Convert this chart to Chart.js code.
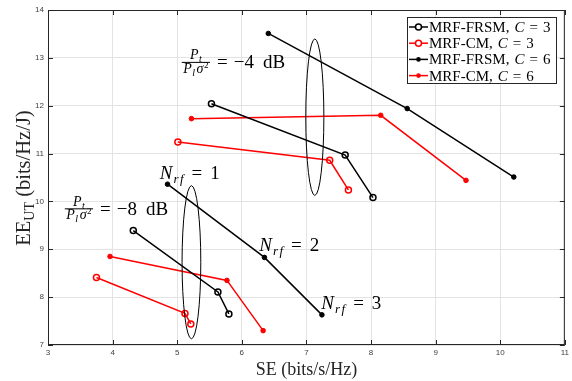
<!DOCTYPE html>
<html>
<head>
<meta charset="utf-8">
<script src="https://cdn.jsdelivr.net/npm/chart.js@4/dist/chart.umd.min.js"></script>
<style>
  html, body { margin: 0; padding: 0; background: #fff; }
  #wrap { width: 572px; height: 381px; }
</style>
</head>
<body>
<div id="wrap"><canvas id="chart"></canvas></div>
<script>
// SE (bits/s/Hz) and EE_UT (bits/Hz/J) per scheme.
// First three points: Pt/(Pl sigma^2) = -4 dB, last three: -8 dB (Nrf = 1, 2, 3).
// The null splits the two runs so they are drawn as separate lines.
const frsm3SE = [5.53, 7.60, 8.03, null, 4.32, 5.63, 5.80];
const frsm3EE = [12.04, 10.97, 10.08, null, 9.39, 8.11, 7.65];
const cm3SE   = [5.01, 7.36, 7.65, null, 3.75, 5.12, 5.21];
const cm3EE   = [11.24, 10.86, 10.24, null, 8.41, 7.66, 7.44];
const frsm6SE = [6.41, 8.56, 10.21, null, 4.85, 6.35, 7.24];
const frsm6EE = [13.51, 11.94, 10.51, null, 10.36, 8.83, 7.63];
const cm6SE   = [5.22, 8.15, 9.47, null, 3.96, 5.77, 6.33];
const cm6EE   = [11.73, 11.80, 10.44, null, 8.85, 8.35, 7.30];

const schemeNames = ['MRF-FRSM', 'MRF-CM', 'MRF-FRSM', 'MRF-CM'];
const clusterSizes = [3, 3, 6, 6];
const schemeColors = ['#000000', '#ff0000', '#000000', '#ff0000'];
const openMarker = [true, true, false, false];

// ellipses grouping the Nrf = 1 points of each power ratio
const ringSE = [7.13, 5.22];
const ringEE = [11.76, 8.73];
const ringHalfSE = [0.14, 0.145];
const ringHalfEE = [1.635, 1.60];

const xMin = 3, xMax = 11, yMin = 7, yMax = 14;

const SERIF = '"Liberation Serif", "Times New Roman", serif';

function toPoints(se, ee) {
  return se.map((x, i) => ({ x: x === null ? NaN : x, y: ee[i] }));
}

const seLists = [frsm3SE, cm3SE, frsm6SE, cm6SE];
const eeLists = [frsm3EE, cm3EE, frsm6EE, cm6EE];

const datasets = seLists.map((se, i) => ({
  label: schemeNames[i] + ', C = ' + clusterSizes[i],
  data: toPoints(se, eeLists[i]),
  borderColor: schemeColors[i],
  backgroundColor: openMarker[i] ? '#ffffff' : schemeColors[i],
  pointBorderColor: schemeColors[i],
  pointBackgroundColor: openMarker[i] ? 'rgba(255,255,255,0)' : schemeColors[i],
  pointRadius: openMarker[i] ? 3 : 2.3,
  pointBorderWidth: openMarker[i] ? 1.5 : 1,
  borderWidth: 1.5,
  spanGaps: false,
  tension: 0
}));

// draws a row of text pieces (italic, sub/superscript) starting at x on baseline y
function drawRuns(ctx, x, y, runs) {
  let cx = x;
  runs.forEach(r => {
    cx += r.gap || 0;
    ctx.font = (r.it ? 'italic ' : '') + r.size + 'px ' + SERIF;
    ctx.fillText(r.t, cx, y + (r.dy || 0));
    cx += ctx.measureText(r.t).width;
  });
  return cx - x;
}

function runsWidth(ctx, runs) {
  let w = 0;
  runs.forEach(r => {
    ctx.font = (r.it ? 'italic ' : '') + r.size + 'px ' + SERIF;
    w += (r.gap || 0) + ctx.measureText(r.t).width;
  });
  return w;
}

function nrfRuns(n) {
  return [
    { t: 'N', size: 19, it: true },
    { t: 'r', size: 13, it: true, dy: 4, gap: 1 },
    { t: 'f', size: 13, it: true, dy: 4, gap: 1.5 },
    { t: '=', size: 19, gap: 8 },
    { t: String(n), size: 19, gap: 8 }
  ];
}

function drawRatio(ctx, x, y, db) {
  const num = [
    { t: 'P', size: 14, it: true },
    { t: 't', size: 10, it: true, dy: 3, gap: 0.5 }
  ];
  const den = [
    { t: 'P', size: 14, it: true },
    { t: 'l', size: 10, it: true, dy: 3, gap: 0.5 },
    { t: 'σ', size: 14, it: true, gap: 1.5 },
    { t: '2', size: 9, dy: -5, gap: 0.5 }
  ];
  const barY = y - 6;
  const wNum = runsWidth(ctx, num);
  const wDen = runsWidth(ctx, den);
  const wBar = Math.max(wNum, wDen) + 3;
  drawRuns(ctx, x + (wBar - wNum) / 2, barY - 3, num);
  drawRuns(ctx, x + (wBar - wDen) / 2, barY + 10.5, den);
  ctx.fillRect(x, barY - 0.5, wBar, 1);
  drawRuns(ctx, x + wBar + 7, y, [
    { t: '=', size: 19 },
    { t: '−' + db, size: 19, gap: 6 },
    { t: 'dB', size: 19, gap: 9 }
  ]);
}

const decorPlugin = {
  id: 'decor',
  afterDatasetsDraw(chart) {
    const ctx = chart.ctx;
    const xs = chart.scales.x, ys = chart.scales.y;
    ctx.save();
    ctx.strokeStyle = '#000';
    ctx.lineWidth = 1;
    ringSE.forEach((se, i) => {
      const cx = xs.getPixelForValue(se);
      const cy = ys.getPixelForValue(ringEE[i]);
      const rx = xs.getPixelForValue(se + ringHalfSE[i]) - cx;
      const ry = cy - ys.getPixelForValue(ringEE[i] + ringHalfEE[i]);
      ctx.beginPath();
      ctx.ellipse(cx, cy, rx, ry, 0, 0, Math.PI * 2);
      ctx.stroke();
    });

    ctx.fillStyle = '#000';
    ctx.textBaseline = 'alphabetic';
    ctx.textAlign = 'left';
    drawRuns(ctx, xs.getPixelForValue(4.73), ys.getPixelForValue(10.47), nrfRuns(1));
    drawRuns(ctx, xs.getPixelForValue(6.27), ys.getPixelForValue(8.97), nrfRuns(2));
    drawRuns(ctx, xs.getPixelForValue(7.23), ys.getPixelForValue(7.75), nrfRuns(3));
    drawRatio(ctx, xs.getPixelForValue(5.07), ys.getPixelForValue(12.78), 4);
    drawRatio(ctx, xs.getPixelForValue(3.26), ys.getPixelForValue(9.72), 8);
    ctx.restore();
  },
  afterDraw(chart) {
    const ctx = chart.ctx;
    const a = chart.chartArea;
    const xs = chart.scales.x, ys = chart.scales.y;
    ctx.save();

    // box and inward ticks on all four sides
    ctx.strokeStyle = '#262626';
    ctx.lineWidth = 1;
    ctx.strokeRect(a.left + 0.5, a.top + 0.5, a.right - a.left - 1, a.bottom - a.top - 1);
    ctx.beginPath();
    xs.ticks.forEach(t => {
      const px = Math.round(xs.getPixelForValue(t.value)) + 0.5;
      ctx.moveTo(px, a.bottom); ctx.lineTo(px, a.bottom - 5);
      ctx.moveTo(px, a.top); ctx.lineTo(px, a.top + 5);
    });
    ys.ticks.forEach(t => {
      const py = Math.round(ys.getPixelForValue(t.value)) + 0.5;
      ctx.moveTo(a.left, py); ctx.lineTo(a.left + 5, py);
      ctx.moveTo(a.right, py); ctx.lineTo(a.right - 5, py);
    });
    ctx.stroke();

    // axis titles
    ctx.fillStyle = '#262626';
    ctx.textBaseline = 'alphabetic';
    ctx.font = '18px ' + SERIF;
    ctx.textAlign = 'center';
    ctx.fillText('SE (bits/s/Hz)', (a.left + a.right) / 2, 375);

    ctx.textAlign = 'left';
    const yTitle = [
      { t: 'EE', size: 20.5 },
      { t: 'UT', size: 14, dy: 4 },
      { t: ' (bits/Hz/J)', size: 20.5 }
    ];
    const wT = runsWidth(ctx, yTitle);
    ctx.translate(30, 178);
    ctx.rotate(-Math.PI / 2);
    drawRuns(ctx, -wT / 2, 0, yTitle);
    ctx.setTransform(1, 0, 0, 1, 0, 0);

    // legend
    const lx = 407, ly = 17, lw = 150, lh = 67;
    ctx.fillStyle = '#fff';
    ctx.fillRect(lx, ly, lw, lh);
    ctx.strokeStyle = '#262626';
    ctx.strokeRect(lx + 0.5, ly + 0.5, lw - 1, lh - 1);
    chart.data.datasets.forEach((ds, i) => {
      const rowY = ly + 10 + i * 16.2;
      ctx.strokeStyle = schemeColors[i];
      ctx.lineWidth = 1.5;
      ctx.beginPath();
      ctx.moveTo(lx + 2, rowY);
      ctx.lineTo(lx + 21, rowY);
      ctx.stroke();
      ctx.beginPath();
      ctx.arc(lx + 11.5, rowY, ds.pointRadius, 0, Math.PI * 2);
      if (openMarker[i]) {
        ctx.fillStyle = '#fff';
        ctx.fill();
        ctx.stroke();
      } else {
        ctx.fillStyle = schemeColors[i];
        ctx.fill();
      }
      ctx.fillStyle = '#000';
      drawRuns(ctx, lx + 22, rowY + 5, [
        { t: schemeNames[i] + ',', size: 15 },
        { t: 'C', size: 15, it: true, gap: 5 },
        { t: '=', size: 15, gap: 5 },
        { t: String(clusterSizes[i]), size: 15, gap: 5 }
      ]);
    });
    ctx.restore();
  }
};

new Chart(document.getElementById('chart'), {
  type: 'line',
  data: { datasets },
  options: {
    responsive: true,
    maintainAspectRatio: false,
    animation: false,
    devicePixelRatio: 1,
    layout: { padding: { top: 10, right: 6, left: 0, bottom: 0 } },
    plugins: {
      legend: { display: false },
      tooltip: { enabled: false }
    },
    scales: {
      x: {
        type: 'linear',
        min: xMin,
        max: xMax,
        afterFit: s => { s.height = 36; },
        ticks: {
          stepSize: 1,
          padding: 3,
          color: '#404040',
          font: { family: '"Liberation Sans", Arial, sans-serif', size: 8 },
          maxRotation: 0
        },
        grid: { color: '#e3e3e3', drawTicks: false },
        border: { display: false }
      },
      y: {
        type: 'linear',
        min: yMin,
        max: yMax,
        afterFit: s => { s.width = 48; },
        ticks: {
          stepSize: 1,
          padding: 4,
          color: '#404040',
          font: { family: '"Liberation Sans", Arial, sans-serif', size: 8 }
        },
        grid: { color: '#e3e3e3', drawTicks: false },
        border: { display: false }
      }
    }
  },
  plugins: [decorPlugin]
});
</script>
</body>
</html>
